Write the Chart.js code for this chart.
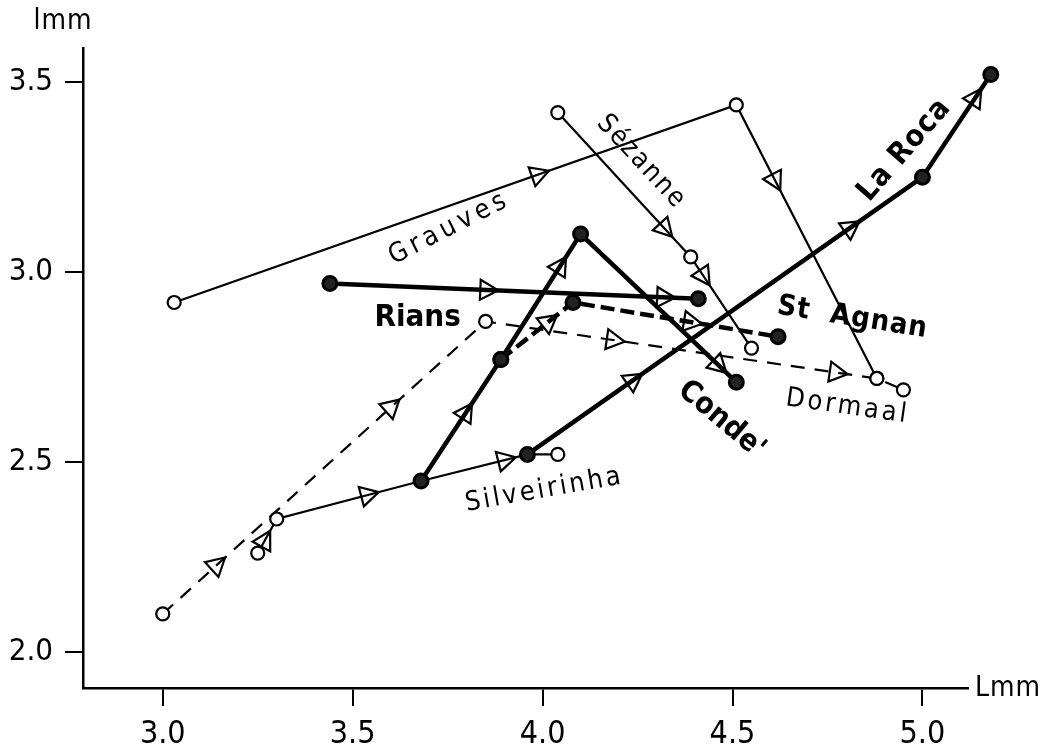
<!DOCTYPE html>
<html>
<head>
<meta charset="utf-8">
<script src="https://cdn.jsdelivr.net/npm/chart.js@4.4.1/dist/chart.umd.min.js"></script>
<style>
  html, body { margin: 0; padding: 0; background: #fff; }
</style>
</head>
<body>
<canvas id="chart" width="1040" height="752"></canvas>
<script>
// tick labels
const xTicks = [3.0, 3.5, 4.0, 4.5, 5.0];
const yTicks = [2.0, 2.5, 3.0, 3.5];

// trajectories, L (x) and l (y) in mm
const condeL = [3.68, 3.89, 4.10, 4.51];
const condeW = [2.45, 2.77, 3.10, 2.71];
const riansL = [3.44, 4.41];
const riansW = [2.97, 2.93];
const laRocaL = [3.96, 5.00, 5.18];
const laRocaW = [2.52, 3.25, 3.52];
const stAgnanL = [3.89, 4.08, 4.62];
const stAgnanW = [2.77, 2.92, 2.83];
const grauvesL = [3.03, 4.51, 4.88];
const grauvesW = [2.92, 3.44, 2.72];
const sezanneL = [4.04, 4.39, 4.55];
const sezanneW = [3.42, 3.04, 2.80];
const silveirinhaL = [3.25, 3.30, 3.68, 3.96, 4.04];
const silveirinhaW = [2.26, 2.35, 2.45, 2.52, 2.52];
const dormaalL = [3.00, 3.85, 4.88, 4.95];
const dormaalW = [2.10, 2.87, 2.72, 2.69];

const FONT = "'DejaVu Sans Condensed', 'DejaVu Sans', sans-serif";

function pts(xs, ys) {
    return xs.map((x, i) => ({ x: x, y: ys[i] }));
}

function bold(label, xs, ys, arrows, dash) {
    return {
        label: label,
        data: pts(xs, ys),
        clip: false,
        borderColor: '#000',
        borderWidth: 4.5,
        borderDash: dash || [],
        pointRadius: 7,
        pointBorderWidth: 3,
        pointBorderColor: '#000',
        pointBackgroundColor: '#222',
        arrows: arrows
    };
}

function thin(label, xs, ys, arrows, dash) {
    return {
        label: label,
        data: pts(xs, ys),
        clip: false,
        borderColor: '#000',
        borderWidth: 2.2,
        borderDash: dash || [],
        pointRadius: 6.5,
        pointBorderWidth: 2.2,
        pointBorderColor: '#000',
        pointBackgroundColor: '#fff',
        arrows: arrows
    };
}

// open triangles along each segment, pointing the way of the trajectory
// (also draws the odd point that lies past the end of the x axis)
const arrowPlugin = {
    id: 'arrows',
    afterDatasetsDraw(chart) {
        const ctx = chart.ctx;
        const area = chart.chartArea;
        chart.data.datasets.forEach((ds, di) => {
            const p = chart.getDatasetMeta(di).data;
            p.forEach(el => {
                if (el.x > area.right || el.y < area.top) el.draw(ctx);
            });
            (ds.arrows || []).forEach((fracs, i) => {
                const a = p[i], b = p[i + 1];
                if (!a || !b) return;
                const ang = Math.atan2(b.y - a.y, b.x - a.x);
                fracs.forEach(f => {
                    ctx.save();
                    ctx.translate(a.x + (b.x - a.x) * f, a.y + (b.y - a.y) * f);
                    ctx.rotate(ang);
                    ctx.beginPath();
                    ctx.moveTo(10, 0);
                    ctx.lineTo(-8, -10);
                    ctx.lineTo(-8, 10);
                    ctx.closePath();
                    ctx.lineWidth = 2.2;
                    ctx.strokeStyle = '#000';
                    ctx.stroke();
                    ctx.restore();
                });
            });
        });
    }
};

// site names written along the curves, plus the two axis names
const notes = [
    { text: 'Grauves', x: 3.755, y: 3.116, rot: -27, weight: 'normal', size: 27, gap: 4.5 },
    { text: 'Sézanne', x: 4.26, y: 3.29, rot: 47, weight: 'normal', size: 27, gap: 2 },
    { text: 'La Roca', x: 4.953, y: 3.321, rot: -49, weight: 'bold', size: 30, gap: 1 },
    { text: 'Rians', x: 3.671, y: 2.879, rot: 0, weight: 'bold', size: 31, gap: 0 },
    { text: 'St  Agnan', x: 4.816, y: 2.879, rot: 9, weight: 'bold', size: 29, gap: 1 },
    { text: 'Dormaal', x: 4.803, y: 2.645, rot: 8, weight: 'normal', size: 27, gap: 3 },
    { text: "Conde'", x: 4.471, y: 2.611, rot: 40, weight: 'bold', size: 30, gap: 0 },
    { text: 'Silveirinha', x: 4.005, y: 2.426, rot: -10, weight: 'normal', size: 27, gap: 3 }
];

const notePlugin = {
    id: 'notes',
    afterDraw(chart) {
        const ctx = chart.ctx;
        const xs = chart.scales.x, ys = chart.scales.y;
        ctx.save();
        ctx.fillStyle = '#000';
        ctx.textAlign = 'center';
        ctx.textBaseline = 'middle';
        notes.forEach(n => {
            ctx.save();
            ctx.translate(xs.getPixelForValue(n.x), ys.getPixelForValue(n.y));
            ctx.rotate(n.rot * Math.PI / 180);
            ctx.font = n.weight + ' ' + n.size + 'px ' + FONT;
            ctx.letterSpacing = n.gap + 'px';
            ctx.fillText(n.text, 0, 0);
            ctx.restore();
        });
        const area = chart.chartArea;
        ctx.font = '28px ' + FONT;
        ctx.letterSpacing = '1px';
        ctx.fillText('lmm', area.left - 20, area.top - 26);
        ctx.textAlign = 'left';
        ctx.fillText('Lmm', area.right + 7, area.bottom + 1);
        ctx.restore();
    }
};

new Chart(document.getElementById('chart'), {
    type: 'line',
    data: {
        datasets: [
            bold('Condé', condeL, condeW, [[0.57], [0.75], [0.89]]),
            bold('Rians', riansL, riansW, [[0.43, 0.91]]),
            bold('La Roca', laRocaL, laRocaW, [[0.27, 0.82], [0.78]]),
            bold('St Agnan', stAgnanL, stAgnanW, [[0.67], [0.58]], [14, 6]),
            thin('Grauves', grauvesL, grauvesW, [[0.65], [0.28]]),
            thin('Sézanne', sezanneL, sezanneW, [[0.81], [0.22]]),
            thin('Silveirinha', silveirinhaL, silveirinhaW, [[0.4], [0.64], [0.8]]),
            thin('Dormaal', dormaalL, dormaalW, [[0.17, 0.71], [0.33, 0.9]], [14, 10])
        ]
    },
    options: {
        responsive: false,
        animation: false,
        events: [],
        layout: { padding: { top: 48, right: 72, bottom: 0, left: 0 } },
        plugins: {
            legend: { display: false },
            tooltip: { enabled: false }
        },
        scales: {
            x: {
                type: 'linear',
                min: 2.79,
                max: 5.12,
                afterBuildTicks: s => { s.ticks = xTicks.map(v => ({ value: v })); },
                afterFit: s => { s.height = 64; },
                border: { display: true, color: '#000', width: 2.5 },
                grid: { drawOnChartArea: false, color: '#000', lineWidth: 2, tickLength: 18 },
                ticks: {
                    color: '#000',
                    padding: 9,
                    maxRotation: 0,
                    font: { family: FONT, size: 32 },
                    callback: v => v.toFixed(1)
                }
            },
            y: {
                type: 'linear',
                min: 1.905,
                max: 3.59,
                afterBuildTicks: s => { s.ticks = yTicks.map(v => ({ value: v })); },
                afterFit: s => { s.width = 83; },
                border: { display: true, color: '#000', width: 2.5 },
                grid: { drawOnChartArea: false, color: '#000', lineWidth: 2, tickLength: 18 },
                ticks: {
                    color: '#000',
                    padding: 12,
                    font: { family: FONT, size: 31 },
                    callback: v => v.toFixed(1)
                }
            }
        }
    },
    plugins: [arrowPlugin, notePlugin]
});
</script>
</body>
</html>
